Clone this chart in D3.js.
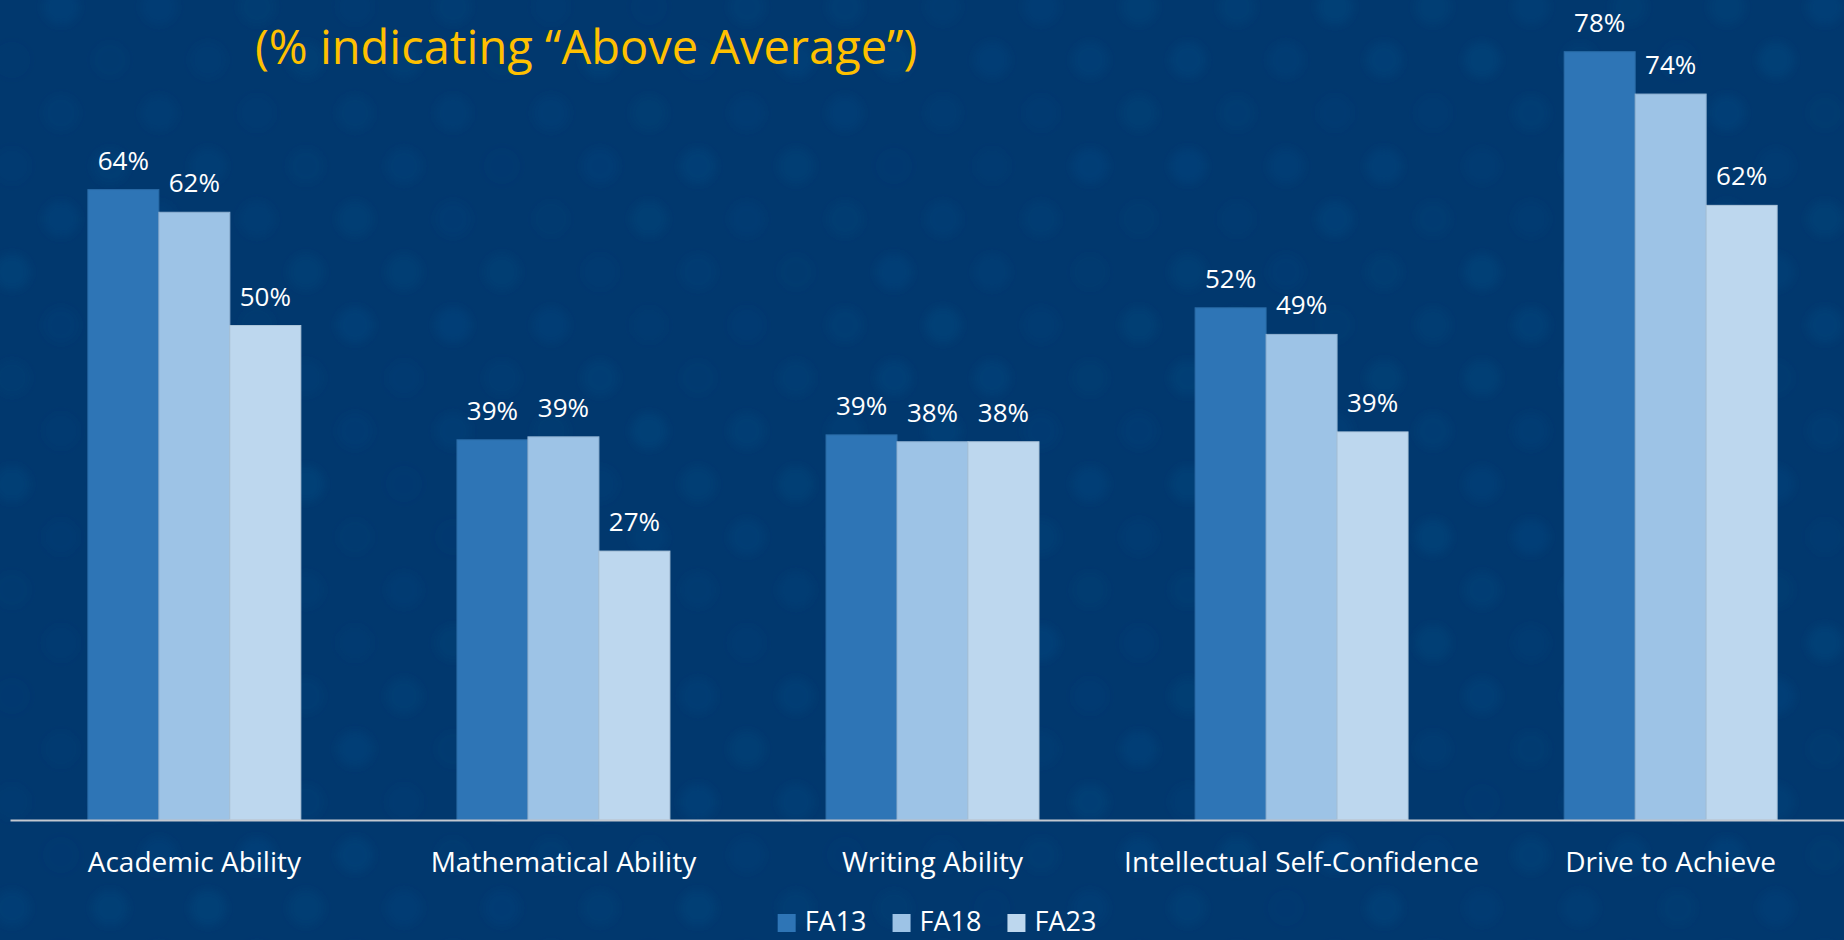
<!DOCTYPE html>
<html>
<head>
<meta charset="utf-8">
<script src="https://cdn.jsdelivr.net/npm/d3@7"></script>
<style>
  html, body { margin: 0; padding: 0; background: #01386e; overflow: hidden; }
  svg { display: block; }
  text { font-family: "Open Sans", sans-serif; }
</style>
</head>
<body>
<div id="chart"></div>
<script>
var categories = ["Academic Ability", "Mathematical Ability", "Writing Ability",
                  "Intellectual Self-Confidence", "Drive to Achieve"];
var series = ["FA13", "FA18", "FA23"];
var fa13 = [64.0, 38.6, 39.1, 52.0, 78.0];
var fa18 = [61.7, 38.9, 38.4, 49.3, 73.7];
var fa23 = [50.2, 27.3, 38.4, 39.4, 62.4];
var colors = ["#2e75b6", "#9dc3e6", "#bdd7ee"];
var subtitle = "(% indicating \u201CAbove Average\u201D)";

var width = 1844,
    height = 940;

var values = [fa13, fa18, fa23];

var svg = d3.select("#chart").append("svg")
    .attr("width", width)
    .attr("height", height);

// background with soft dots
var defs = svg.append("defs");
defs.append("filter").attr("id", "soft")
    .append("feGaussianBlur").attr("stdDeviation", 4);

svg.append("rect")
    .attr("width", width)
    .attr("height", height)
    .attr("fill", "#01386e");

var dots = [];
for (var c = 0; c * 49 < width + 50; c++) {
    for (var r = 0; r * 106 < height + 110; r++) {
        var h = Math.abs(Math.sin(c * 12.9898 + r * 78.233) * 43758.5453) % 1;
        dots.push({x: c * 49 + 12, y: r * 106 + (c % 2 ? 0 : 53) + 7, o: 0.08 + 0.3 * h});
    }
}
svg.append("g").attr("filter", "url(#soft)")
    .selectAll("circle")
    .data(dots)
    .join("circle")
    .attr("cx", d => d.x)
    .attr("cy", d => d.y)
    .attr("r", 18)
    .attr("fill", "#0b4a84")
    .attr("fill-opacity", d => d.o);

// scales
var x0 = d3.scaleBand()
    .domain(categories)
    .range([10, 1855])
    .paddingInner(0.423)
    .paddingOuter(0.211);

var x1 = d3.scaleBand()
    .domain(series)
    .range([0, x0.bandwidth()]);

var y = d3.scaleLinear()
    .domain([0, 100])
    .range([820, -165]);

var color = d3.scaleOrdinal().domain(series).range(colors);

// bars
var groups = svg.append("g").selectAll("g")
    .data(categories)
    .join("g")
    .attr("transform", d => "translate(" + x0(d) + ",0)");

var bars = groups.selectAll("g")
    .data((d, i) => series.map((s, j) => ({s: s, v: values[j][i]})))
    .join("g");

bars.append("rect")
    .attr("x", d => x1(d.s))
    .attr("width", x1.bandwidth())
    .attr("y", d => y(d.v))
    .attr("height", d => y(0) - y(d.v))
    .attr("fill", d => color(d.s))
    .attr("stroke", d => d3.color(color(d.s)).darker(0.25))
    .attr("stroke-width", 1);

bars.append("text")
    .attr("x", d => x1(d.s) + x1.bandwidth() / 2)
    .attr("y", d => y(d.v) - 20)
    .attr("text-anchor", "middle")
    .attr("fill", "#ffffff")
    .attr("font-size", 26)
    .text(d => d3.format(".0f")(d.v) + "%");

// x axis
var xAxis = svg.append("g")
    .attr("transform", "translate(0," + y(0) + ")")
    .call(d3.axisBottom(x0).tickSize(0).tickSizeOuter(0).tickPadding(32));

xAxis.select(".domain")
    .attr("stroke", "#c4c8d0")
    .attr("stroke-width", 2);
xAxis.selectAll("text")
    .attr("fill", "#ffffff")
    .attr("font-size", 28)
    .attr("font-family", "Open Sans, sans-serif");

// title
svg.append("text")
    .attr("x", 255)
    .attr("y", 64)
    .attr("fill", "#ffc000")
    .attr("font-size", 47)
    .text(subtitle);

// legend
var legend = svg.append("g");
var lx = 0;
series.forEach(function(s) {
    legend.append("rect")
        .attr("x", lx)
        .attr("y", 914)
        .attr("width", 18)
        .attr("height", 18)
        .attr("fill", color(s));
    var t = legend.append("text")
        .attr("x", lx + 27)
        .attr("y", 931)
        .attr("fill", "#ffffff")
        .attr("font-size", 27)
        .text(s);
    lx += 27 + t.node().getComputedTextLength() + 26;
});
var lw = lx - 26;
legend.attr("transform", "translate(" + (937 - lw / 2) + ",0)");
</script>
</body>
</html>
